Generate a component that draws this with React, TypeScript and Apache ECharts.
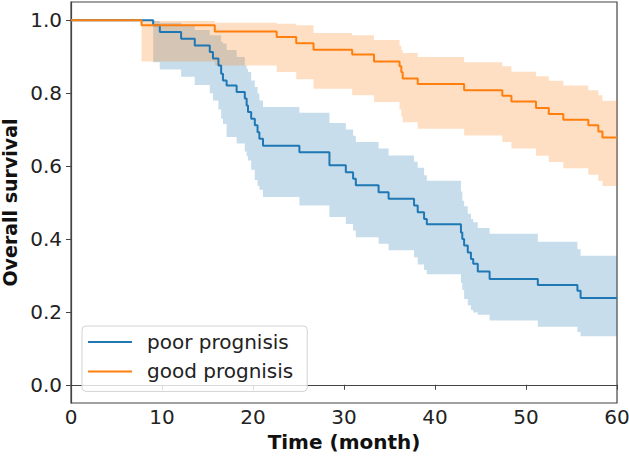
import React, { useEffect, useRef } from "react";
import * as echarts from "echarts";

// Poor prognosis Kaplan-Meier estimate (time in months)
const poorTime = [0, 9.03, 9.76, 12.1, 13.6, 15.25, 15.6, 16.2, 16.5, 16.7, 17.1, 18.2, 19.1, 19.3, 19.45, 19.8, 20.2, 20.5, 20.7, 21.1, 25.1, 28.4, 30.2, 31.0, 31.3, 33.8, 34.9, 37.7, 38.1, 38.8, 39.1, 42.85, 43.0, 43.2, 43.6, 43.95, 44.2, 44.7, 46.0, 51.3, 55.65, 56.0, 60];
const poorSurv = [1.0, 0.986, 0.968, 0.949, 0.931, 0.913, 0.895, 0.876, 0.853, 0.835, 0.821, 0.803, 0.785, 0.766, 0.748, 0.730, 0.712, 0.693, 0.675, 0.656, 0.638, 0.602, 0.583, 0.565, 0.547, 0.528, 0.510, 0.492, 0.473, 0.455, 0.440, 0.418, 0.400, 0.382, 0.363, 0.345, 0.332, 0.311, 0.290, 0.274, 0.258, 0.238, 0.238];
const poorLower = [1.0, 0.885, 0.865, 0.845, 0.822, 0.80, 0.78, 0.755, 0.73, 0.715, 0.68, 0.662, 0.64, 0.627, 0.615, 0.59, 0.562, 0.545, 0.535, 0.515, 0.492, 0.460, 0.441, 0.423, 0.405, 0.387, 0.369, 0.35, 0.33, 0.315, 0.303, 0.28, 0.26, 0.235, 0.218, 0.205, 0.198, 0.192, 0.176, 0.159, 0.145, 0.133, 0.133];
const poorUpper = [1.0, 0.998, 0.993, 0.986, 0.973, 0.959, 0.959, 0.959, 0.94, 0.936, 0.918, 0.899, 0.876, 0.866, 0.858, 0.835, 0.817, 0.799, 0.780, 0.762, 0.746, 0.718, 0.70, 0.683, 0.666, 0.648, 0.629, 0.612, 0.595, 0.575, 0.560, 0.53, 0.505, 0.49, 0.469, 0.455, 0.446, 0.430, 0.414, 0.392, 0.372, 0.354, 0.354];

// Good prognosis Kaplan-Meier estimate
const goodTime = [0, 7.75, 15.8, 22.6, 24.75, 26.65, 30.9, 33.3, 36.1, 36.3, 36.45, 38.1, 43.2, 47.4, 48.4, 51.1, 52.5, 54.1, 56.85, 57.95, 58.4, 60];
const goodSurv = [1.0, 0.986, 0.969, 0.954, 0.937, 0.919, 0.906, 0.887, 0.874, 0.857, 0.840, 0.825, 0.808, 0.793, 0.777, 0.759, 0.743, 0.727, 0.712, 0.695, 0.678, 0.678];
const goodUpper = [1.0, 0.998, 0.993, 0.990, 0.986, 0.965, 0.959, 0.946, 0.93, 0.918, 0.910, 0.899, 0.885, 0.874, 0.859, 0.846, 0.834, 0.821, 0.808, 0.794, 0.779, 0.779];
const goodLower = [1.0, 0.887, 0.876, 0.858, 0.838, 0.812, 0.794, 0.776, 0.755, 0.735, 0.72, 0.702, 0.684, 0.666, 0.648, 0.628, 0.611, 0.594, 0.576, 0.559, 0.545, 0.545];

const seriesNames = ["poor prognisis", "good prognisis"];
const xTicks = [0, 10, 20, 30, 40, 50, 60];
const yTicks = [0, 0.2, 0.4, 0.6, 0.8, 1.0];

const BLUE = "#1f77b4";
const ORANGE = "#ff7f0e";
const FONT = "DejaVu Sans";

function pairs(t: number[], v: number[]) {
  return t.map((x, i) => [x, v[i]]);
}

// Confidence band drawn as one step-shaped polygon, using the axis scales (api.coord)
function band(name: string, t: number[], lo: number[], hi: number[], fill: string) {
  return {
    type: "custom",
    name,
    silent: true,
    z: 1,
    data: t.map((x, i) => [x, lo[i], hi[i]]),
    encode: { x: 0, y: [1, 2] },
    renderItem: (params: any, api: any) => {
      if (params.dataIndex !== 0) return null;
      const pts: number[][] = [];
      const n = t.length;
      for (let i = 0; i < n - 1; i++) {
        pts.push(api.coord([t[i], hi[i]]));
        pts.push(api.coord([t[i + 1], hi[i]]));
      }
      for (let i = n - 2; i >= 0; i--) {
        pts.push(api.coord([t[i + 1], lo[i]]));
        pts.push(api.coord([t[i], lo[i]]));
      }
      return {
        type: "polygon",
        shape: { points: pts },
        style: { fill, stroke: "none" },
      };
    },
  };
}

export default function App() {
  const ref = useRef<HTMLDivElement>(null);
  useEffect(() => {
    if (!ref.current) return;
    const chart = echarts.init(ref.current, undefined, { renderer: "svg" });
    chart.setOption({
      animation: false,
      backgroundColor: "#ffffff",
      textStyle: { fontFamily: FONT },
      grid: {
        left: 71,
        right: 12,
        top: 2,
        bottom: 55,
        show: true,
        borderColor: "#444",
        borderWidth: 1.2,
        backgroundColor: "transparent",
        outerBoundsMode: "none",
      },
      legend: {
        data: seriesNames,
        orient: "vertical",
        left: 82,
        top: 326,
        padding: [6, 14, 10, 6],
        itemGap: 9.4,
        itemWidth: 44,
        itemHeight: 2,
        icon: "rect",
        borderColor: "#d3d3d3",
        borderWidth: 1,
        borderRadius: 4,
        backgroundColor: "rgba(255,255,255,0.8)",
        textStyle: { fontFamily: FONT, fontSize: 20, color: "#222", lineHeight: 20, padding: [0, 0, 0, 10] },
      },
      xAxis: {
        type: "value",
        min: 0,
        max: 60,
        interval: 10,
        name: "Time (month)",
        nameLocation: "middle",
        nameGap: 23,
        nameTextStyle: { fontFamily: FONT, fontSize: 20, fontWeight: "bold", color: "#111" },
        axisLine: { show: true, lineStyle: { color: "#444", width: 1.2 } },
        axisTick: { show: true, length: 5, lineStyle: { color: "#444" }, customValues: xTicks },
        axisLabel: { fontFamily: FONT, fontSize: 20, color: "#222", margin: 4, customValues: xTicks },
        splitLine: { show: false },
      },
      yAxis: {
        type: "value",
        min: -0.05,
        max: 1.05,
        name: "Overall survival",
        nameLocation: "middle",
        nameGap: 50,
        nameTextStyle: { fontFamily: FONT, fontSize: 19, fontWeight: "bold", color: "#111" },
        axisLine: { show: true, lineStyle: { color: "#444", width: 1.2 } },
        axisTick: { show: true, length: 5, lineStyle: { color: "#444" }, customValues: yTicks },
        axisLabel: {
          fontFamily: FONT,
          fontSize: 20,
          color: "#222",
          margin: 9,
          customValues: yTicks,
          formatter: (v: number) => v.toFixed(1),
        },
        splitLine: { show: false },
      },
      series: [
        band("poorBand", poorTime, poorLower, poorUpper, "rgba(31,119,180,0.25)"),
        band("goodBand", goodTime, goodLower, goodUpper, "rgba(255,127,14,0.25)"),
        {
          type: "line",
          name: seriesNames[0],
          step: "end",
          data: pairs(poorTime, poorSurv),
          symbol: "none",
          color: BLUE,
          lineStyle: { color: BLUE, width: 2 },
          z: 3,
        },
        {
          type: "line",
          name: seriesNames[1],
          step: "end",
          data: pairs(goodTime, goodSurv),
          symbol: "none",
          color: ORANGE,
          lineStyle: { color: ORANGE, width: 2 },
          z: 3,
        },
      ],
    });
    return () => chart.dispose();
  }, []);
  return (
    <div
      ref={ref}
      style={{ position: "fixed", left: 0, top: 0, width: 629, height: 458 }}
    />
  );
}
